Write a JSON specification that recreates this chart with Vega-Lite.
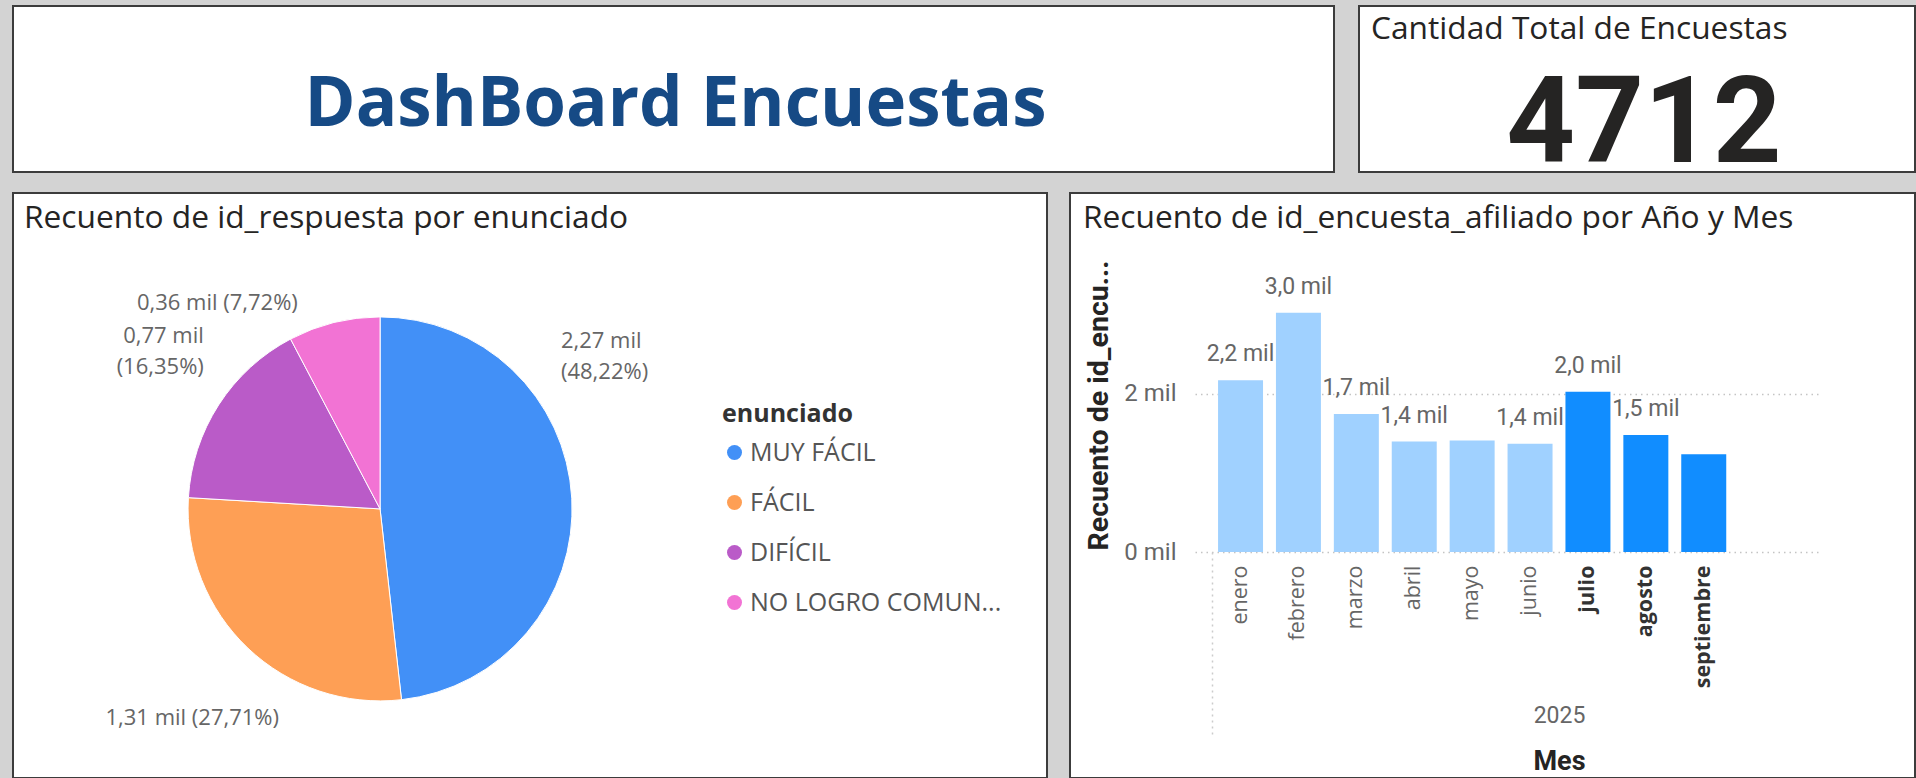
{
  "$schema": "https://vega.github.io/schema/vega-lite/v6.json",
  "padding": {"left": 12, "top": 5, "right": 0, "bottom": 0},
  "background": "#d3d3d3",
  "datasets": {
    "enunciados": [
      {"enunciado": "MUY FÁCIL", "n": 2274},
      {"enunciado": "FÁCIL", "n": 1307},
      {"enunciado": "DIFÍCIL", "n": 771},
      {"enunciado": "NO LOGRO COMUNICARSE", "n": 364}
    ],
    "meses": [
      {"anio": "2025", "mes": "enero", "trimestre": "T1", "n": 2167},
      {"anio": "2025", "mes": "febrero", "trimestre": "T1", "n": 3020},
      {"anio": "2025", "mes": "marzo", "trimestre": "T1", "n": 1741},
      {"anio": "2025", "mes": "abril", "trimestre": "T2", "n": 1393},
      {"anio": "2025", "mes": "mayo", "trimestre": "T2", "n": 1406},
      {"anio": "2025", "mes": "junio", "trimestre": "T2", "n": 1366},
      {"anio": "2025", "mes": "julio", "trimestre": "T3", "n": 2022},
      {"anio": "2025", "mes": "agosto", "trimestre": "T3", "n": 1475},
      {"anio": "2025", "mes": "septiembre", "trimestre": "T3", "n": 1232}
    ],
    "encabezado": [{"titulo": "DashBoard Encuestas"}],
    "kpi": [{"total_encuestas": 4712}]
  },
  "spacing": 5,
  "resolve": {"scale": {"color": "independent"}, "legend": {"color": "independent"}},
  "vconcat": [
    {
      "spacing": 25,
      "bounds": "flush",
      "hconcat": [
        {
          "width": 1321,
          "height": 166,
          "view": {"fill": "white", "stroke": "#3c3c3c", "strokeWidth": 2},
          "data": {"name": "encabezado"},
          "mark": {"type": "text", "font": "Open Sans", "fontSize": 69, "fontWeight": "bold", "color": "#164A85", "baseline": "alphabetic", "dx": 2, "dy": 37},
          "encoding": {
            "x": {"datum": 0.5, "type": "quantitative", "scale": {"domain": [0, 1]}, "axis": null},
            "y": {"datum": 0.5, "type": "quantitative", "scale": {"domain": [0, 1]}, "axis": null},
            "text": {"field": "titulo", "type": "nominal"}
          }
        },
        {
          "width": 556,
          "height": 166,
          "view": {"fill": "white", "stroke": "#3c3c3c", "strokeWidth": 2},
          "title": {"text": "Cantidad Total de Encuestas", "dx": 12, "dy": -2},
          "data": {"name": "kpi"},
          "mark": {"type": "text", "font": "Roboto", "fontSize": 120, "fontWeight": "bold", "color": "#252423", "baseline": "alphabetic", "dx": 7, "dy": 73},
          "encoding": {
            "x": {"datum": 0.5, "type": "quantitative", "scale": {"domain": [0, 1]}, "axis": null},
            "y": {"datum": 0.5, "type": "quantitative", "scale": {"domain": [0, 1]}, "axis": null},
            "text": {"field": "total_encuestas", "type": "quantitative", "format": "d"}
          }
        }
      ]
    },
    {
      "spacing": 23,
      "bounds": "flush",
      "resolve": {"scale": {"color": "independent"}, "legend": {"color": "independent"}},
      "hconcat": [
        {
          "width": 1034,
          "height": 585,
          "view": {"fill": "white", "stroke": "#3c3c3c", "strokeWidth": 2},
          "title": {"text": "Recuento de id_respuesta por enunciado", "dx": 11},
          "data": {"name": "enunciados"},
          "transform": [{"joinaggregate": [{"op": "sum", "field": "n", "as": "total"}]}],
          "encoding": {
            "x": {"datum": 0.355, "type": "quantitative", "scale": {"domain": [0, 1]}, "axis": null},
            "y": {"datum": 0.46, "type": "quantitative", "scale": {"domain": [0, 1]}, "axis": null},
            "theta": {"field": "n", "type": "quantitative", "stack": true},
            "order": {"field": "n", "type": "quantitative", "sort": "descending"},
            "detail": {"field": "enunciado", "type": "nominal"}
          },
          "layer": [
            {
              "mark": {"type": "arc", "outerRadius": 192, "stroke": "white", "strokeWidth": 1},
              "encoding": {
                "color": {
                  "field": "enunciado",
                  "type": "nominal",
                  "scale": {"domain": ["MUY FÁCIL", "FÁCIL", "DIFÍCIL", "NO LOGRO COMUNICARSE"], "range": ["#4290F7", "#FE9F55", "#BA5BC8", "#F273D4"]},
                  "legend": {
                    "orient": "none", "legendX": 709, "legendY": 209,
                    "title": "enunciado", "titleFont": "Open Sans", "titleFontSize": 25, "titleFontWeight": "bold", "titleColor": "#333333", "titlePadding": 13,
                    "labelFont": "Open Sans", "labelFontSize": 25, "labelColor": "#555555", "labelOffset": 3, "labelLimit": 400,
                    "symbolType": "circle", "symbolSize": 225, "symbolStrokeWidth": 0, "rowPadding": 24,
                    "labelExpr": "length(datum.label) > 15 ? slice(datum.label, 0, 14) + '...' : datum.label"
                  }
                }
              }
            },
            {
              "mark": {"type": "text", "radius": 247, "thetaOffset": -0.693, "align": "left", "baseline": "middle", "lineHeight": 31, "font": "Open Sans", "fontSize": 22, "color": "#666666",
                "text": {"expr": "datum.enunciado == 'MUY FÁCIL' ? [format(datum.n/1000, '.2f') + ' mil', '(' + format(datum.n/datum.total, '.2%') + ')'] : ''"}}
            },
            {
              "mark": {"type": "text", "radius": 232, "thetaOffset": -0.308, "align": "right", "baseline": "middle", "font": "Open Sans", "fontSize": 22, "color": "#666666",
                "text": {"expr": "datum.enunciado == 'FÁCIL' ? format(datum.n/1000, '.2f') + ' mil (' + format(datum.n/datum.total, '.2%') + ')' : ''"}}
            },
            {
              "mark": {"type": "text", "radius": 247, "thetaOffset": 0.204, "align": "right", "baseline": "middle", "lineHeight": 31, "font": "Open Sans", "fontSize": 22, "color": "#666666",
                "text": {"expr": "datum.enunciado == 'DIFÍCIL' ? [format(datum.n/1000, '.2f') + ' mil', '(' + format(datum.n/datum.total, '.2%') + ')'] : ''"}}
            },
            {
              "mark": {"type": "text", "radius": 222, "thetaOffset": -0.137, "align": "right", "baseline": "middle", "font": "Open Sans", "fontSize": 22, "color": "#666666",
                "text": {"expr": "datum.enunciado == 'NO LOGRO COMUNICARSE' ? format(datum.n/1000, '.2f') + ' mil (' + format(datum.n/datum.total, '.2%') + ')' : ''"}}
            }
          ]
        },
        {
          "width": 845,
          "height": 585,
          "view": {"fill": "white", "stroke": "#3c3c3c", "strokeWidth": 2},
          "title": {"text": "Recuento de id_encuesta_afiliado por Año y Mes", "dx": 13},
          "data": {"name": "meses"},
          "resolve": {"axis": {"x": "independent"}},
          "encoding": {
            "y": {
              "field": "n", "type": "quantitative",
              "scale": {"domain": [0, 4000], "range": [359, 42]},
              "axis": {
                "orient": "left", "offset": -110, "values": [0, 2000], "domain": false, "ticks": false,
                "grid": true, "gridDash": [1.5, 4], "gridColor": "#c4c4c4", "gridWidth": 1.5,
                "labelExpr": "(datum.value / 1000) + ' mil'", "labelFont": "Roboto", "labelFontSize": 24, "labelColor": "#666666", "labelPadding": 4,
                "title": "Recuento de id_encu...", "titleFont": "Roboto", "titleFontSize": 28.5, "titleFontWeight": "bold", "titleColor": "#252423", "titlePadding": 10, "titleY": 212
              }
            }
          },
          "layer": [
            {
              "mark": {"type": "bar"},
              "encoding": {
                "x": {
                  "field": "mes", "type": "nominal",
                  "sort": ["enero", "febrero", "marzo", "abril", "mayo", "junio", "julio", "agosto", "septiembre"],
                  "scale": {"range": [125, 749], "paddingInner": 0.223, "paddingOuter": 1, "align": 0.199},
                  "axis": {
                    "orient": "bottom", "offset": -226, "domain": false, "ticks": false, "grid": false,
                    "labelAngle": -90, "labelPadding": 13, "labelFont": "Open Sans", "labelFontSize": 21.5,
                    "labelColor": {"condition": {"test": "indexof(['julio','agosto','septiembre'], datum.value) >= 0", "value": "#333333"}, "value": "#666666"},
                    "labelFontWeight": {"condition": {"test": "indexof(['julio','agosto','septiembre'], datum.value) >= 0", "value": "bold"}, "value": "normal"},
                    "title": "2025", "titleFont": "Roboto", "titleFontSize": 23, "titleFontWeight": "normal", "titleColor": "#666666", "titlePadding": 17, "titleX": 489
                  }
                },
                "color": {"field": "trimestre", "type": "nominal", "scale": {"domain": ["T1", "T2", "T3"], "range": ["#A0D1FF", "#A0D1FF", "#118DFF"]}, "legend": null}
              }
            },
            {
              "transform": [{"filter": "datum.mes != 'mayo' && datum.mes != 'septiembre'"}],
              "mark": {"type": "text", "dy": -26, "baseline": "middle", "font": "Roboto", "fontSize": 23, "color": "#666666",
                "text": {"expr": "format(datum.n / 1000, '.1f') + ' mil'"}},
              "encoding": {
                "x": {
                  "field": "mes", "type": "nominal",
                  "sort": ["enero", "febrero", "marzo", "abril", "mayo", "junio", "julio", "agosto", "septiembre"],
                  "axis": {
                    "orient": "bottom", "offset": -226, "domain": false, "labels": false, "grid": false,
                    "values": ["enero"], "ticks": true, "tickBand": "center", "tickOffset": -29, "tickSize": 184, "tickDash": [2, 4], "tickColor": "#cccccc", "tickWidth": 1.5,
                    "title": "Mes", "titleFont": "Roboto", "titleFontSize": 27, "titleFontWeight": "bold", "titleColor": "#252423", "titlePadding": 12, "titleX": 489
                  }
                }
              }
            }
          ]
        }
      ]
    }
  ],
  "config": {
    "font": "Open Sans",
    "locale": {"number": {"decimal": ",", "thousands": ".", "grouping": [3], "currency": ["", " €"]}},
    "view": {"fill": "white", "stroke": "#3c3c3c", "strokeWidth": 2},
    "title": {"anchor": "start", "font": "Open Sans", "fontSize": 31.7, "fontWeight": "normal", "color": "#252423", "baseline": "alphabetic", "offset": -42}
  }
}
